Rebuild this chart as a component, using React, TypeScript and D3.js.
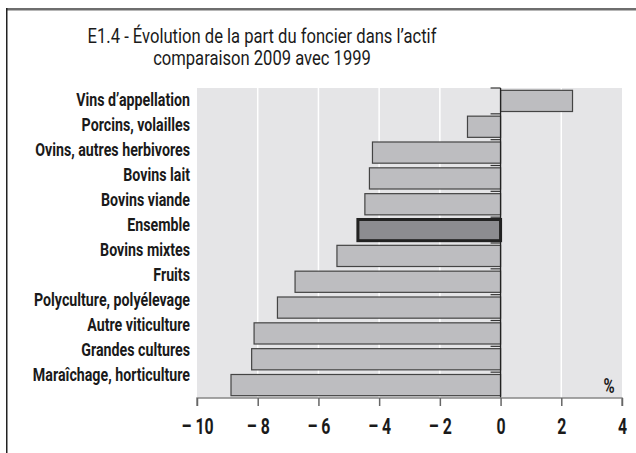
import React, { useEffect, useRef } from 'react';
import * as d3 from 'd3';

const categories = [
  'Vins d\u2019appellation',
  'Porcins, volailles',
  'Ovins, autres herbivores',
  'Bovins lait',
  'Bovins viande',
  'Ensemble',
  'Bovins mixtes',
  'Fruits',
  'Polyculture, poly\u00e9levage',
  'Autre viticulture',
  'Grandes cultures',
  'Mara\u00eechage, horticulture',
];
const values = [2.37, -1.09, -4.22, -4.32, -4.47, -4.7, -5.39, -6.77, -7.35, -8.12, -8.2, -8.88];
const xTicks = [-10, -8, -6, -4, -2, 0, 2, 4];
const titleLines = ['E1.4 - \u00c9volution de la part du foncier dans l\u2019actif', 'comparaison 2009 avec 1999'];
const highlight = 'Ensemble';

const W = 636;
const H = 453;
const FONT = 'Roboto, "DejaVu Sans Condensed", sans-serif';
const SX = 0.72; // condensed look for tick numbers
const SL = 0.79; // condensed look for category labels

export default function App() {
  const ref = useRef<SVGSVGElement | null>(null);

  useEffect(() => {
    const svg = d3.select(ref.current);
    svg.selectAll('*').remove();

    const margin = { top: 88, right: 14, bottom: 55, left: 197 };
    const x = d3.scaleLinear().domain([-10, 4]).range([margin.left, W - margin.right]);
    const y = d3.scaleBand<string>().domain(categories).range([margin.top, H - margin.bottom]).paddingInner(0.18).paddingOuter(0.09);
    const yLab = d3.scaleBand<string>().domain(categories).range([margin.top - 1, H - margin.bottom - 11]);

    svg.append('rect').attr('x', 0).attr('y', 0).attr('width', W).attr('height', H).attr('fill', '#fff');
    // outer frame: grey top edge, dark left edge
    svg.append('rect')
      .attr('x', 6).attr('y', 8).attr('width', W - 6).attr('height', 2.5)
      .attr('fill', '#6e6e6e');
    svg.append('rect')
      .attr('x', 6).attr('y', 8).attr('width', 1.5).attr('height', H - 8)
      .attr('fill', '#222');

    svg.append('g')
      .attr('transform', `translate(262,0) scale(0.83,1)`)
      .append('text')
      .attr('x', 0).attr('y', 43)
      .attr('text-anchor', 'middle')
      .attr('font-family', FONT).attr('font-size', 20).attr('fill', '#1a1a1a')
      .selectAll('tspan').data(titleLines).join('tspan')
      .attr('x', 0).attr('dy', (d, i) => (i === 0 ? 0 : 22))
      .text(d => d);

    // plot background
    svg.append('rect')
      .attr('x', x(-10)).attr('y', margin.top)
      .attr('width', x(4) - x(-10)).attr('height', H - margin.bottom - margin.top)
      .attr('fill', '#e5e5e7');

    // grid
    svg.append('g')
      .selectAll('line').data(xTicks.filter(t => t !== -10 && t !== 4 && t !== 0)).join('line')
      .attr('x1', d => x(d)).attr('x2', d => x(d))
      .attr('y1', margin.top).attr('y2', H - margin.bottom)
      .attr('stroke', '#fff').attr('stroke-width', 1.5);

    // bars
    svg.append('g')
      .selectAll('rect').data(categories).join('rect')
      .attr('x', (d, i) => x(Math.min(0, values[i])))
      .attr('y', d => y(d)!)
      .attr('width', (d, i) => Math.abs(x(values[i]) - x(0)))
      .attr('height', y.bandwidth())
      .attr('fill', d => (d === highlight ? '#8c8c90' : '#bdbdc0'))
      .attr('stroke', d => (d === highlight ? '#222' : '#444'))
      .attr('stroke-width', d => (d === highlight ? 3 : 1.2));

    // vertical zero axis with ticks at band boundaries
    const step = y.step();
    const bounds = d3.range(categories.length).map(i => margin.top + i * step);
    svg.append('g')
      .selectAll('line').data(bounds).join('line')
      .attr('x1', x(0) - 10).attr('x2', x(0))
      .attr('y1', d => d).attr('y2', d => d)
      .attr('stroke', '#333').attr('stroke-width', 1.2);
    svg.append('line')
      .attr('x1', x(0)).attr('x2', x(0))
      .attr('y1', margin.top).attr('y2', H - margin.bottom)
      .attr('stroke', '#222').attr('stroke-width', 1.3);

    // bottom axis
    const ax = svg.append('g')
      .attr('transform', `translate(0,${H - margin.bottom})`)
      .call(d3.axisBottom(x).tickValues(xTicks).tickSize(8).tickPadding(12)
        .tickFormat(d => (+d < 0 ? `\u2013 ${Math.abs(+d)}` : `${d}`)));
    ax.select('.domain').attr('stroke', '#888').attr('stroke-width', 1.5).attr('d', `M${x(-10)},8V0H${x(4)}V8`);
    ax.selectAll('.tick line').attr('stroke', '#666').attr('stroke-width', 1.5);
    ax.selectAll('.tick text')
      .attr('transform', `scale(${SX},1)`)
      .attr('font-family', FONT).attr('font-size', 22).attr('font-weight', 'bold').attr('fill', '#1a1a1a');

    // category labels
    svg.append('g')
      .attr('transform', `scale(${SL},1)`)
      .selectAll('text').data(categories).join('text')
      .attr('x', 190 / SL)
      .attr('y', d => yLab(d)! + yLab.bandwidth() / 2)
      .attr('dy', '0.36em')
      .attr('text-anchor', 'end')
      .attr('font-family', FONT).attr('font-size', 18).attr('font-weight', 'bold').attr('fill', '#1a1a1a')
      .text(d => d);

    svg.append('g')
      .attr('transform', `scale(${SX},1)`)
      .append('text')
      .attr('x', 609 / SX).attr('y', 393)
      .attr('text-anchor', 'middle')
      .attr('font-family', FONT).attr('font-size', 21).attr('font-weight', 'bold').attr('fill', '#1a1a1a')
      .text('%');
  }, []);

  return (
    <svg ref={ref} width={W} height={H} style={{ position: 'absolute', left: 0, top: 0 }} />
  );
}
